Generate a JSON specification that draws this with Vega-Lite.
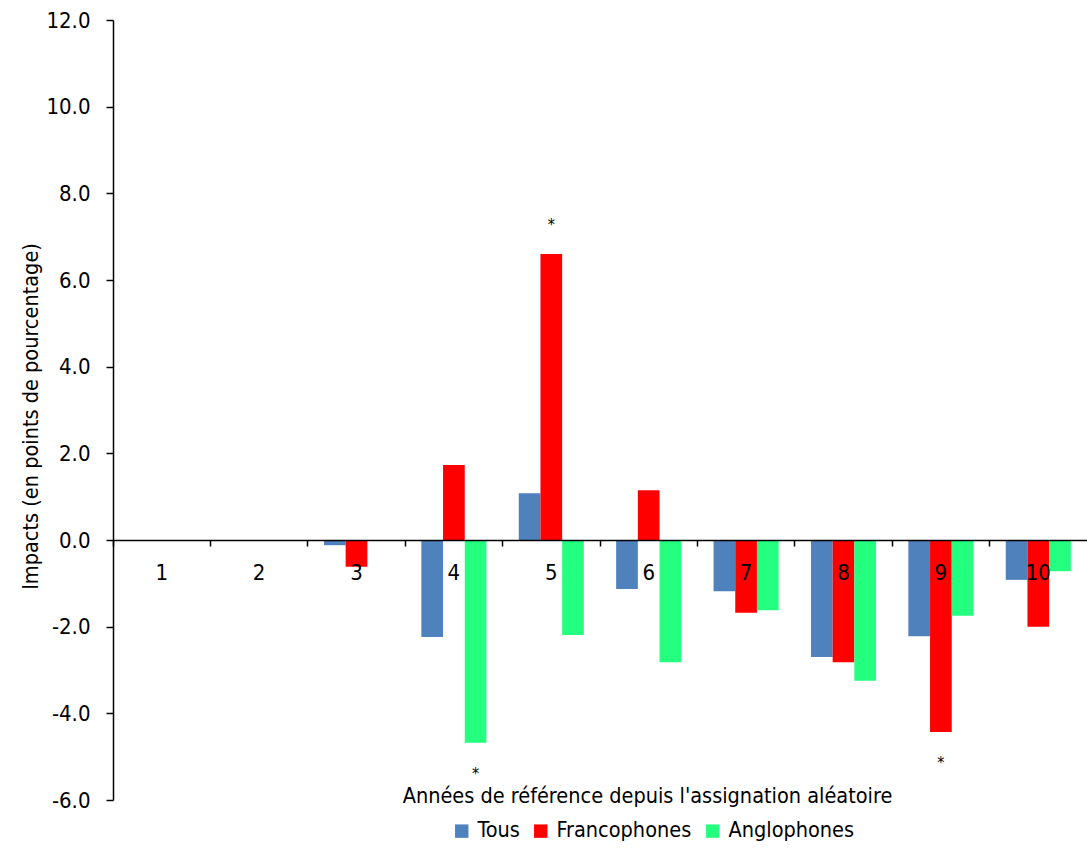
{
  "$schema": "https://vega.github.io/schema/vega-lite/v6.json",
  "autosize": "none",
  "width": 974,
  "height": 780,
  "padding": {"left": 113, "top": 20, "right": 0, "bottom": 48},
  "background": "white",
  "config": {
    "view": {"stroke": null},
    "font": "DejaVu Sans Condensed, sans-serif",
    "axis": {"grid": false, "domainColor": "black", "tickColor": "black", "labelColor": "black", "titleColor": "black", "domainWidth": 1.5, "tickWidth": 1.5, "labelFontSize": 22, "titleFontSize": 21.5, "titleFontWeight": "normal", "labelFont": "DejaVu Sans Condensed, sans-serif", "titleFont": "DejaVu Sans Condensed, sans-serif"},
    "legend": {"labelFont": "DejaVu Sans Condensed, sans-serif", "labelFontSize": 21.5, "labelColor": "black"}
  },
  "data": {
    "values": [
      {"annee": "1", "groupe": "Tous", "impact": null, "sig": false},
      {"annee": "2", "groupe": "Tous", "impact": null, "sig": false},
      {"annee": "3", "groupe": "Tous", "impact": -0.12, "sig": false},
      {"annee": "3", "groupe": "Francophones", "impact": -0.62, "sig": false},
      {"annee": "4", "groupe": "Tous", "impact": -2.24, "sig": false},
      {"annee": "4", "groupe": "Francophones", "impact": 1.73, "sig": false},
      {"annee": "4", "groupe": "Anglophones", "impact": -4.68, "sig": true},
      {"annee": "5", "groupe": "Tous", "impact": 1.08, "sig": false},
      {"annee": "5", "groupe": "Francophones", "impact": 6.6, "sig": true},
      {"annee": "5", "groupe": "Anglophones", "impact": -2.19, "sig": false},
      {"annee": "6", "groupe": "Tous", "impact": -1.13, "sig": false},
      {"annee": "6", "groupe": "Francophones", "impact": 1.15, "sig": false},
      {"annee": "6", "groupe": "Anglophones", "impact": -2.82, "sig": false},
      {"annee": "7", "groupe": "Tous", "impact": -1.18, "sig": false},
      {"annee": "7", "groupe": "Francophones", "impact": -1.68, "sig": false},
      {"annee": "7", "groupe": "Anglophones", "impact": -1.62, "sig": false},
      {"annee": "8", "groupe": "Tous", "impact": -2.7, "sig": false},
      {"annee": "8", "groupe": "Francophones", "impact": -2.82, "sig": false},
      {"annee": "8", "groupe": "Anglophones", "impact": -3.25, "sig": false},
      {"annee": "9", "groupe": "Tous", "impact": -2.22, "sig": false},
      {"annee": "9", "groupe": "Francophones", "impact": -4.43, "sig": true},
      {"annee": "9", "groupe": "Anglophones", "impact": -1.75, "sig": false},
      {"annee": "10", "groupe": "Tous", "impact": -0.92, "sig": false},
      {"annee": "10", "groupe": "Francophones", "impact": -2.0, "sig": false},
      {"annee": "10", "groupe": "Anglophones", "impact": -0.72, "sig": false}
    ]
  },
  "encoding": {
    "x": {
      "field": "annee", "type": "nominal",
      "scale": {"domain": ["1","2","3","4","5","6","7","8","9","10"], "paddingInner": 0, "paddingOuter": 0},
      "axis": {
        "orient": "bottom", "offset": -260, "zindex": 1, "labelAngle": 0, "tickSize": 6, "bandPosition": 0,
        "labelPadding": 16,
        "title": "Années de référence depuis l'assignation aléatoire",
        "titleX": 534, "titleY": 245, "titleAlign": "center", "titleBaseline": "top", "titleAnchor": null
      }
    },
    "xOffset": {
      "field": "groupe", "type": "nominal",
      "scale": {"domain": ["Tous", "Francophones", "Anglophones"], "paddingInner": 0, "paddingOuter": 0.745}
    },
    "y": {
      "field": "impact", "type": "quantitative",
      "scale": {"domain": [-6, 12], "nice": false, "zero": false},
      "axis": {
        "values": [-6, -4, -2, 0, 2, 4, 6, 8, 10, 12],
        "labelExpr": "replace(format(datum.value, '.1f'), '\u2212', '-')",
        "tickSize": 7, "labelPadding": 16,
        "title": "Impacts (en points de pourcentage)",
        "titleX": -82, "titleY": 396, "titleAngle": -90, "titleAlign": "center", "titleBaseline": "middle", "titleAnchor": null
      }
    }
  },
  "layer": [
    {
      "mark": {"type": "bar"},
      "encoding": {
        "color": {
          "field": "groupe", "type": "nominal",
          "scale": {"domain": ["Tous", "Francophones", "Anglophones"], "range": ["#4F81BD", "#FF0000", "#24FF80"]},
          "legend": {
            "title": null, "orient": "none", "direction": "horizontal", "legendX": 338, "legendY": 800,
            "symbolType": "square", "symbolSize": 180, "symbolStrokeWidth": 0, "symbolOpacity": 1,
            "labelOffset": 5, "columnPadding": 10, "padding": 0
          }
        },
        "y2": {"datum": 0}
      }
    },
    {
      "transform": [{"filter": "datum.sig && datum.impact > 0"}],
      "mark": {"type": "text", "fontSize": 16, "dy": -24, "baseline": "alphabetic", "color": "black"},
      "encoding": {"text": {"value": "*"}}
    },
    {
      "transform": [{"filter": "datum.sig && datum.impact < 0"}],
      "mark": {"type": "text", "fontSize": 16, "dy": 36, "baseline": "alphabetic", "color": "black"},
      "encoding": {"text": {"value": "*"}}
    }
  ]
}
